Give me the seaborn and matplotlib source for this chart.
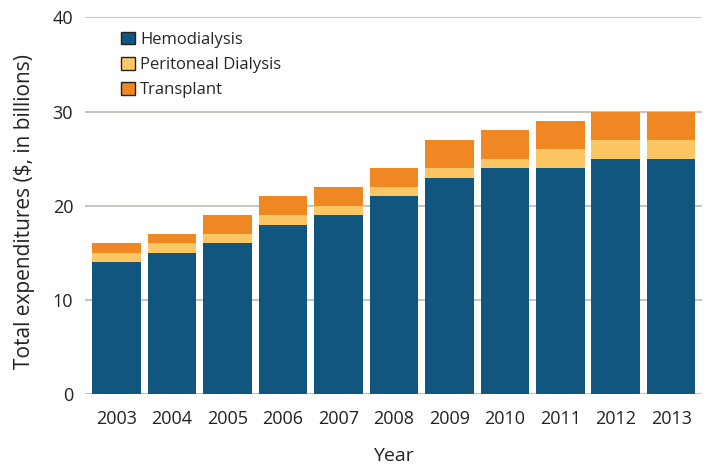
import matplotlib
matplotlib.use("Agg")
import matplotlib.pyplot as plt
from matplotlib.patches import Patch
import seaborn as sns
import pandas as pd

years = ["2003", "2004", "2005", "2006", "2007", "2008", "2009", "2010", "2011", "2012", "2013"]
hemodialysis = [14, 15, 16, 18, 19, 21, 23, 24, 24, 25, 25]
peritoneal = [1, 1, 1, 1, 1, 1, 1, 1, 2, 2, 2]
transplant = [1, 1, 2, 2, 2, 2, 3, 3, 3, 3, 3]
series_names = ["Hemodialysis", "Peritoneal Dialysis", "Transplant"]
colors = ["#10567f", "#fdc665", "#ef8722"]

sns.set_theme(style="white")
plt.rcParams["font.family"] = ["Open Sans", "DejaVu Sans"]

df = pd.DataFrame({"Year": years, "H": hemodialysis, "P": peritoneal, "T": transplant})
df["HP"] = df["H"] + df["P"]
df["HPT"] = df["HP"] + df["T"]

fig = plt.figure(figsize=(7.08, 4.65), dpi=100)
ax = fig.add_axes([85 / 708, 1 - 394.3 / 465, 616.7 / 708, 377 / 465])

for col, c in zip(["HPT", "HP", "H"], colors[::-1]):
    sns.barplot(data=df, x="Year", y=col, color=c, order=years, width=0.875,
                saturation=1, ax=ax, edgecolor="none", linewidth=0, zorder=3)

ax.set_xlim(-0.57, 10.55)
ax.set_ylim(0, 40)
ax.set_yticks([0, 10, 20, 30, 40])
ax.yaxis.grid(True, color="#c9c5c1", linewidth=1.5, zorder=0)
ax.xaxis.grid(False)
ax.set_axisbelow(True)
for s in ax.spines.values():
    s.set_visible(False)
ax.tick_params(axis="both", length=0, labelsize=13, colors="#222222")
ax.tick_params(axis="x", pad=11)
ax.tick_params(axis="y", pad=8.5)
ax.set_xlabel("Year", fontsize=14, color="#222222", labelpad=14)
ax.set_ylabel("Total expenditures ($, in billions)", fontsize=15, color="#222222")
ax.yaxis.set_label_coords(-0.081, 0.486)

handles = [Patch(facecolor=c, edgecolor="#222222", linewidth=1) for c in colors]
ax.legend(handles, series_names, loc="upper left", bbox_to_anchor=(0.0584, 0.962),
          frameon=False, fontsize=12, handlelength=0.84, handleheight=0.78,
          handletextpad=0.3, labelspacing=0.56, borderaxespad=0, borderpad=0)

fig.savefig("out.png", dpi=100)
